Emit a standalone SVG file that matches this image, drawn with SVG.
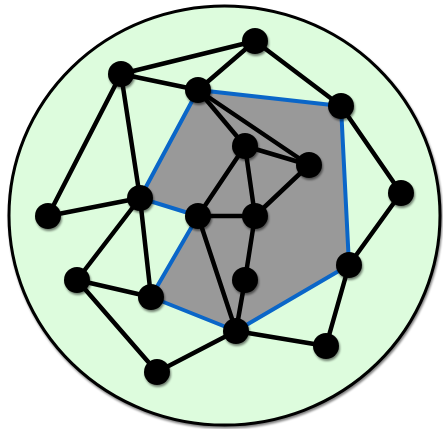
<svg xmlns="http://www.w3.org/2000/svg" width="443" height="429" viewBox="0 0 443 429">
<defs>
<style>
.e{stroke:#000;stroke-width:4.5;stroke-linecap:round}
.b{stroke:#0a66c8;stroke-width:4;fill:#999999;stroke-linejoin:round}
.n{fill:#000}
</style>
<filter id="sh" x="-50%" y="-50%" width="200%" height="200%">
<feGaussianBlur in="SourceAlpha" stdDeviation="1.2"/>
<feOffset dx="1" dy="1.5" result="o"/>
<feComponentTransfer><feFuncA type="linear" slope="0.5"/></feComponentTransfer>
<feMerge><feMergeNode/><feMergeNode in="SourceGraphic"/></feMerge>
</filter>
</defs>
<ellipse cx="224.5" cy="215.5" rx="215.5" ry="209.5" fill="#ddfcdd" stroke="#000" stroke-width="3" filter="url(#sh)"/>
<g id="region">
<polygon class="b" points="198,90 341,106 349,265 236,331 151,297 198,216 140,198"/>
</g>
<g id="connectors">
<line class="e" x1="255" y1="41" x2="121" y2="74"/>
<line class="e" x1="255" y1="41" x2="198" y2="90"/>
<line class="e" x1="255" y1="41" x2="341" y2="106"/>
<line class="e" x1="121" y1="74" x2="198" y2="90"/>
<line class="e" x1="121" y1="74" x2="140" y2="198"/>
<line class="e" x1="121" y1="74" x2="48" y2="216"/>
<line class="e" x1="48" y1="216" x2="140" y2="198"/>
<line class="e" x1="140" y1="198" x2="77" y2="280"/>
<line class="e" x1="140" y1="198" x2="151" y2="297"/>
<line class="e" x1="77" y1="280" x2="151" y2="297"/>
<line class="e" x1="77" y1="280" x2="157" y2="372"/>
<line class="e" x1="157" y1="372" x2="236" y2="331"/>
<line class="e" x1="236" y1="331" x2="326" y2="346"/>
<line class="e" x1="326" y1="346" x2="349" y2="265"/>
<line class="e" x1="349" y1="265" x2="401" y2="193"/>
<line class="e" x1="401" y1="193" x2="341" y2="106"/>
<line class="e" x1="198" y1="90" x2="245" y2="146"/>
<line class="e" x1="198" y1="90" x2="309" y2="165"/>
<line class="e" x1="245" y1="146" x2="309" y2="165"/>
<line class="e" x1="245" y1="146" x2="198" y2="216"/>
<line class="e" x1="245" y1="146" x2="255" y2="216"/>
<line class="e" x1="309" y1="165" x2="255" y2="216"/>
<line class="e" x1="198" y1="216" x2="255" y2="216"/>
<line class="e" x1="198" y1="216" x2="236" y2="331"/>
<line class="e" x1="255" y1="216" x2="245" y2="280"/>
<line class="e" x1="245" y1="280" x2="236" y2="331"/>
</g>
<g filter="url(#sh)">
<g id="nA"><circle class="n" cx="255" cy="41" r="13"/></g>
<g id="nB"><circle class="n" cx="121" cy="74" r="13"/></g>
<g id="nC"><circle class="n" cx="198" cy="90" r="13"/></g>
<g id="nD"><circle class="n" cx="341" cy="106" r="13"/></g>
<g id="nE"><circle class="n" cx="245" cy="146" r="13"/></g>
<g id="nF"><circle class="n" cx="309" cy="165" r="13"/></g>
<g id="nG"><circle class="n" cx="401" cy="193" r="13"/></g>
<g id="nH"><circle class="n" cx="140" cy="198" r="13"/></g>
<g id="nI"><circle class="n" cx="48" cy="216" r="13"/></g>
<g id="nJ"><circle class="n" cx="198" cy="216" r="13"/></g>
<g id="nK"><circle class="n" cx="255" cy="216" r="13"/></g>
<g id="nL"><circle class="n" cx="349" cy="265" r="13"/></g>
<g id="nM"><circle class="n" cx="77" cy="280" r="13"/></g>
<g id="nN"><circle class="n" cx="151" cy="297" r="13"/></g>
<g id="nO"><circle class="n" cx="245" cy="280" r="13"/></g>
<g id="nP"><circle class="n" cx="236" cy="331" r="13"/></g>
<g id="nQ"><circle class="n" cx="326" cy="346" r="13"/></g>
<g id="nR"><circle class="n" cx="157" cy="372" r="13"/></g>
</g>
</svg>
